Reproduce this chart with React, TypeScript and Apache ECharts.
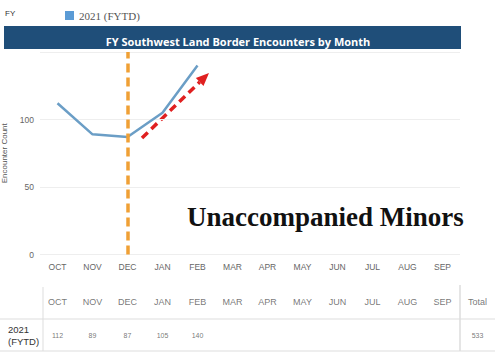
import React, { useEffect, useRef } from "react";
import * as echarts from "echarts";

const months = ["OCT", "NOV", "DEC", "JAN", "FEB", "MAR", "APR", "MAY", "JUN", "JUL", "AUG", "SEP"];
const values2021: (number | null)[] = [112, 89, 87, 105, 140, null, null, null, null, null, null, null];
const total2021 = 533;
const yTicks = [0, 50, 100];
const seriesName = "2021 (FYTD)";
const chartTitle = "FY Southwest Land Border Encounters by Month";
const annotation = "Unaccompanied Minors";
const highlightMonth = "DEC";

export default function App() {
  const ref = useRef<HTMLDivElement>(null);
  useEffect(() => {
    if (!ref.current) return;
    const chart = echarts.init(ref.current, null, { renderer: "svg" });
    const tableCats = [...months, "Total"];
    const headerRow = tableCats.map((c, i) => ({ value: [i, 17], name: c }));
    const valueRow = [
      ...values2021.map((v, i) => (v == null ? null : { value: [i, 50], name: String(v) })),
      { value: [12, 50], name: String(total2021) },
    ].filter(Boolean);

    const dir = { x: 0.718, y: -0.696 };
    const tip = { x: 209, y: 73 };
    const start = { x: 142, y: 138 };
    const hl = 13, hw = 5.5;
    const base = { x: tip.x - hl * dir.x, y: tip.y - hl * dir.y };
    const perp = { x: -dir.y, y: dir.x };

    chart.setOption({
      animation: false,
      backgroundColor: "#fff",
      title: {
        text: chartTitle,
        left: 233,
        top: 31,
        textAlign: "center",
        textStyle: { color: "#fff", fontSize: 11, fontWeight: "bold", fontFamily: "Open Sans" },
      },
      legend: {
        left: 60,
        top: 5,
        icon: "rect",
        itemWidth: 9,
        itemHeight: 9,
        itemGap: 6,
        data: [seriesName],
        textStyle: { fontFamily: "Liberation Serif", fontSize: 11, color: "#555" },
      },
      grid: [
        { left: 40, right: 40, top: 52, bottom: 104.5, outerBoundsMode: "none", containLabel: false },
        { left: 40, right: 5, top: 285, bottom: 7, outerBoundsMode: "none", containLabel: false },
      ],
      xAxis: [
        {
          type: "category",
          data: months,
          gridIndex: 0,
          boundaryGap: true,
          axisLine: { show: false },
          axisTick: { show: false },
          axisLabel: { color: "#666", fontSize: 8.5, fontFamily: "Liberation Sans", margin: 8 },
        },
        {
          type: "value",
          gridIndex: 1,
          min: -0.5,
          max: 12.5,
          show: false,
        },
      ],
      yAxis: [
        {
          type: "value",
          gridIndex: 0,
          min: 0,
          max: 150,
          interval: 50,
          name: "Encounter Count",
          nameLocation: "middle",
          nameGap: 27,
          nameTextStyle: { color: "#555", fontSize: 8, fontFamily: "Liberation Sans" },
          axisLabel: {
            color: "#666",
            fontSize: 8.5,
            fontFamily: "Liberation Sans",
            margin: 6,
            formatter: (v: number) => (yTicks.includes(v) ? String(v) : ""),
          },
          splitLine: { lineStyle: { color: "#eeeeee", width: 1 } },
        },
        {
          type: "value",
          gridIndex: 1,
          min: 0,
          max: 67,
          inverse: true,
          show: false,
        },
      ],
      series: [
        {
          name: seriesName,
          type: "line",
          data: values2021,
          xAxisIndex: 0,
          yAxisIndex: 0,
          showSymbol: false,
          symbol: "none",
          color: "#5b9bd5",
          lineStyle: { color: "#6b9ec6", width: 2.5 },
          markLine: {
            silent: true,
            symbol: "none",
            label: { show: false },
            lineStyle: { color: "#f0a035", width: 3.5, type: [9, 5] },
            data: [{ xAxis: highlightMonth }],
          },
        },
        {
          type: "scatter",
          xAxisIndex: 1,
          yAxisIndex: 1,
          symbolSize: 0,
          silent: true,
          data: headerRow,
          label: {
            show: true,
            position: "inside",
            formatter: (p: any) => p.name,
            color: "#555",
            fontSize: 9,
            fontFamily: "Liberation Sans",
          },
        },
        {
          type: "scatter",
          xAxisIndex: 1,
          yAxisIndex: 1,
          symbolSize: 0,
          silent: true,
          data: valueRow,
          label: {
            show: true,
            position: "inside",
            formatter: (p: any) => p.name,
            color: "#555",
            fontSize: 7,
            fontFamily: "Liberation Sans",
          },
        },
      ],
      graphic: [
        { type: "rect", z: -1, shape: { x: 4, y: 26, width: 457, height: 23 }, style: { fill: "#1f4e79" } },
        {
          type: "text",
          x: 5,
          y: 9,
          style: { text: "FY", fill: "#333", fontSize: 8, fontFamily: "Liberation Sans" },
        },
        {
          type: "text",
          x: 187,
          y: 217,
          style: {
            text: annotation,
            fill: "#111",
            fontSize: 27,
            fontWeight: "bold",
            fontFamily: "Liberation Serif",
            textVerticalAlign: "middle",
          },
        },
        {
          type: "line",
          shape: { x1: start.x, y1: start.y, x2: base.x, y2: base.y },
          style: { stroke: "#e02020", lineWidth: 3.5, lineDash: [8, 5] },
        },
        {
          type: "polygon",
          shape: {
            points: [
              [tip.x, tip.y],
              [base.x + hw * perp.x, base.y + hw * perp.y],
              [base.x - hw * perp.x, base.y - hw * perp.y],
            ],
          },
          style: { fill: "#e02020" },
        },
        {
          type: "text",
          x: 8,
          y: 323,
          style: { text: "2021\n(FYTD)", fill: "#333", fontSize: 9.5, lineHeight: 12, fontFamily: "Liberation Sans" },
        },
        { type: "line", shape: { x1: 0, y1: 319, x2: 495, y2: 319 }, style: { stroke: "#ddd", lineWidth: 1 } },
        { type: "line", shape: { x1: 0, y1: 351, x2: 495, y2: 351 }, style: { stroke: "#ddd", lineWidth: 1 } },
        { type: "line", shape: { x1: 43, y1: 287, x2: 43, y2: 351 }, style: { stroke: "#ddd", lineWidth: 1 } },
        { type: "line", shape: { x1: 460, y1: 285, x2: 460, y2: 351 }, style: { stroke: "#ddd", lineWidth: 1.5 } },
      ],
    });
    return () => chart.dispose();
  }, []);
  return <div ref={ref} style={{ position: "fixed", left: 0, top: 0, width: 500, height: 359 }} />;
}
